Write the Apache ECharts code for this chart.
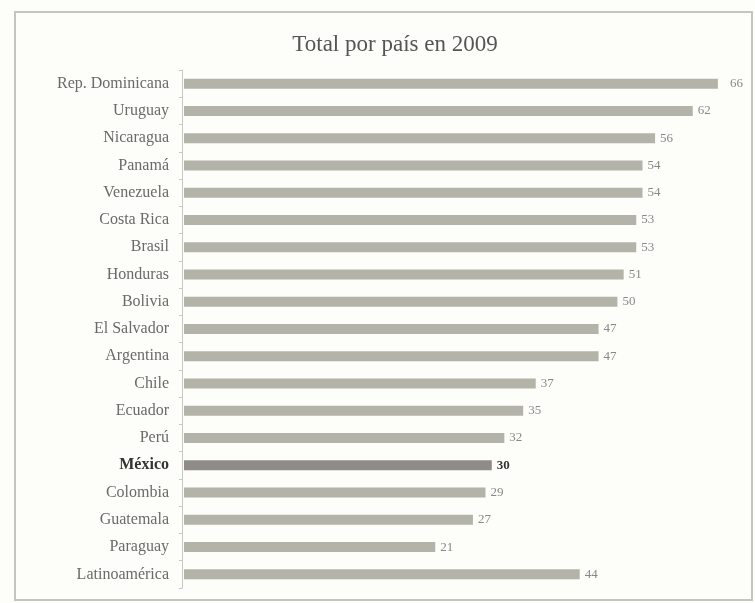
<!DOCTYPE html>
<html>
<head>
<meta charset="utf-8">
<script src="https://cdn.jsdelivr.net/npm/echarts@6/dist/echarts.min.js"></script>
<style>
  html, body { margin: 0; padding: 0; background: #fdfdf9; }
  #chart { width: 755px; height: 603px; }
</style>
</head>
<body>
<div id="chart"></div>
<script>
// Countries, top to bottom
const countries = [
  'Rep. Dominicana', 'Uruguay', 'Nicaragua', 'Panamá', 'Venezuela',
  'Costa Rica', 'Brasil', 'Honduras', 'Bolivia', 'El Salvador',
  'Argentina', 'Chile', 'Ecuador', 'Perú', 'México',
  'Colombia', 'Guatemala', 'Paraguay', 'Latinoamérica'
];
// Total per country in 2009
const totals = [66, 62, 56, 54, 54, 53, 53, 51, 50, 47, 47, 37, 35, 32, 30, 29, 27, 21, 44];
// Country drawn with emphasis
const highlighted = 'México';

const serif = '"Liberation Serif", "DejaVu Serif", serif';
const barColor = '#b3b3aa';
const barColorStrong = '#8f8b88';

const seriesData = totals.map((v, i) => {
  const strong = countries[i] === highlighted;
  return {
    value: v,
    itemStyle: { color: strong ? barColorStrong : barColor },
    label: strong ? { color: '#333', fontWeight: 'bold' } : (i === 0 ? { distance: 12 } : {})
  };
});

const chart = echarts.init(document.getElementById('chart'), null, { renderer: 'canvas' });
chart.setOption({
  animation: false,
  backgroundColor: '#fdfdf9',
  title: {
    text: 'Total por país en 2009',
    left: 390,
    textAlign: 'center',
    top: 28,
    textStyle: { fontFamily: serif, fontSize: 23, fontWeight: 'normal', color: '#555' }
  },
  graphic: [{
    type: 'rect',
    shape: { x: 15, y: 12, width: 737, height: 588 },
    style: { fill: 'none', stroke: '#c4c4c0', lineWidth: 2 },
    silent: true
  }],
  grid: { left: 184, right: 12, top: 70, height: 518, containLabel: false },
  xAxis: {
    type: 'value',
    min: -19,
    max: 70,
    startValue: -19,
    show: false
  },
  yAxis: {
    type: 'category',
    data: countries,
    inverse: true,
    offset: 2,
    axisLine: { show: true, onZero: false, lineStyle: { color: '#c8c8c4', width: 1 } },
    axisTick: { show: true, length: 3, lineStyle: { color: '#c8c8c4' } },
    axisLabel: {
      margin: 13,
      fontFamily: serif,
      fontSize: 16,
      color: '#6a6a6a',
      formatter: (name) => name === highlighted ? '{b|' + name + '}' : name,
      rich: {
        b: { fontFamily: serif, fontSize: 16, fontWeight: 'bold', color: '#333' }
      }
    }
  },
  series: [{
    type: 'bar',
    data: seriesData,
    barWidth: 10,
    label: {
      show: true,
      position: 'right',
      distance: 5,
      fontFamily: serif,
      fontSize: 13,
      color: '#888'
    }
  }]
});
</script>
</body>
</html>
